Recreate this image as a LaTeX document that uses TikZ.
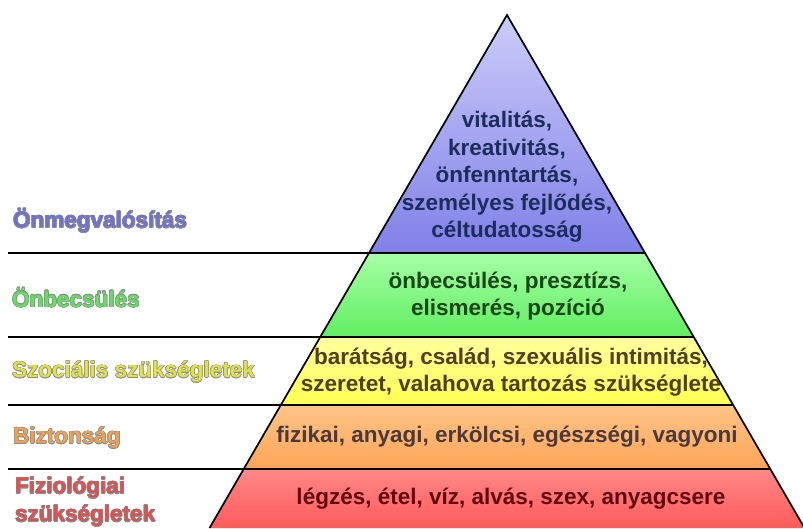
\documentclass[tikz,border=0pt]{standalone}
\usepackage{fontspec}
\setmainfont{Liberation Sans}
\usepackage{contour}
\contourlength{0.5pt}
\usetikzlibrary{positioning}

\definecolor{bluetop}{RGB}{204,204,250}
\definecolor{bluemid}{RGB}{244,244,255}
\definecolor{bluebot}{RGB}{128,128,232}
\definecolor{greentop}{RGB}{166,255,166}
\definecolor{greenbot}{RGB}{96,238,96}
\definecolor{yellowtop}{RGB}{255,255,160}
\definecolor{yellowbot}{RGB}{255,255,80}
\definecolor{orangetop}{RGB}{255,196,136}
\definecolor{orangebot}{RGB}{255,164,88}
\definecolor{redtop}{RGB}{255,136,136}
\definecolor{redbot}{RGB}{255,90,90}
\definecolor{bluetext}{RGB}{28,44,92}
\definecolor{greentext}{RGB}{26,70,26}
\definecolor{yellowtext}{RGB}{80,64,32}
\definecolor{orangetext}{RGB}{74,58,58}
\definecolor{redtext}{RGB}{96,8,16}
\definecolor{bluelabel}{RGB}{112,112,214}
\definecolor{greenlabel}{RGB}{96,226,96}
\definecolor{yellowlabel}{RGB}{226,226,64}
\definecolor{orangelabel}{RGB}{240,160,80}
\definecolor{redlabel}{RGB}{224,80,80}

\tikzset{sepline/.style = {draw, black, line width=1.7pt}}
\tikzset{content/.style =
   {align=center,
    font=\fontsize{22.5}{27.5}\selectfont\bfseries,
    inner sep=0pt}}
\tikzset{levellabel/.style =
   {anchor=west,
    align=left,
    font=\fontsize{22.5}{28}\selectfont\bfseries,
    inner sep=0pt}}

\begin{document}
\begin{tikzpicture}[x=1pt, y=-1pt]

    \useasboundingbox (0,0) rectangle (803,528);

    \coordinate (apex) at (507,15);
    \coordinate (l1) at (369,253);   \coordinate (r1) at (645,253);
    \coordinate (l2) at (320.2,337); \coordinate (r2) at (693.8,337);
    \coordinate (l3) at (280.8,405); \coordinate (r3) at (733.2,405);
    \coordinate (l4) at (243.7,469); \coordinate (r4) at (770.3,469);
    \coordinate (l5) at (209.5,528); \coordinate (r5) at (804.5,528);

    % layers
    \shade [top color=bluetop, middle color=bluemid, bottom color=bluebot]
     (apex) -- (r1) -- (l1) -- cycle;
    \shade [top color=greentop, bottom color=greenbot]
     (l1) -- (r1) -- (r2) -- (l2) -- cycle;
    \shade [top color=yellowtop, bottom color=yellowbot]
     (l2) -- (r2) -- (r3) -- (l3) -- cycle;
    \shade [top color=orangetop, bottom color=orangebot]
     (l3) -- (r3) -- (r4) -- (l4) -- cycle;
    \shade [top color=redtop, bottom color=redbot]
     (l4) -- (r4) -- (r5) -- (l5) -- cycle;

    \draw [sepline] (l5) -- (apex) -- (r5);
    \coordinate (s1) at (8,253);
    \coordinate (s2) at (8,337);
    \coordinate (s3) at (8,405);
    \coordinate (s4) at (8,469);
    \draw [sepline] (s1) -- (r1);
    \draw [sepline] (s2) -- (r2);
    \draw [sepline] (s3) -- (r3);
    \draw [sepline] (s4) -- (r4);

    % texts in the pyramid
    \node [content, text=bluetext] (selfact) at (507,177)
     {vitalitás,\\kreativitás,\\önfenntartás,\\személyes fejlődés,\\céltudatosság};
    \node [content, text=greentext] (esteem) at (508,296)
     {önbecsülés, presztízs,\\elismerés, pozíció};
    \node [content, text=yellowtext] (social) at (511,372)
     {barátság, család, szexuális intimitás,\\szeretet, valahova tartozás szükséglete};
    \node [content, text=orangetext] (safety) at (507,437)
     {fizikai, anyagi, erkölcsi, egészségi, vagyoni};
    \node [content, text=redtext] (physio) at (511,499)
     {légzés, étel, víz, alvás, szex, anyagcsere};

    % level names
    \node [levellabel, text=bluelabel] (selfactlabel) at (13,221)
     {\contour{black!45}{Önmegvalósítás}};
    \node [levellabel, text=greenlabel] (esteemlabel) at (12,298)
     {\contour{black!45}{Önbecsülés}};
    \node [levellabel, text=yellowlabel] (sociallabel) at (12,372)
     {\contour{black!45}{Szociális szükségletek}};
    \node [levellabel, text=orangelabel] (safetylabel) at (13,438)
     {\contour{black!45}{Biztonság}};
    \node [levellabel, text=redlabel] (physiolabel) at (15,502)
     {\contour{black!45}{Fiziológiai}\\\contour{black!45}{szükségletek}};

\end{tikzpicture}
\end{document}
